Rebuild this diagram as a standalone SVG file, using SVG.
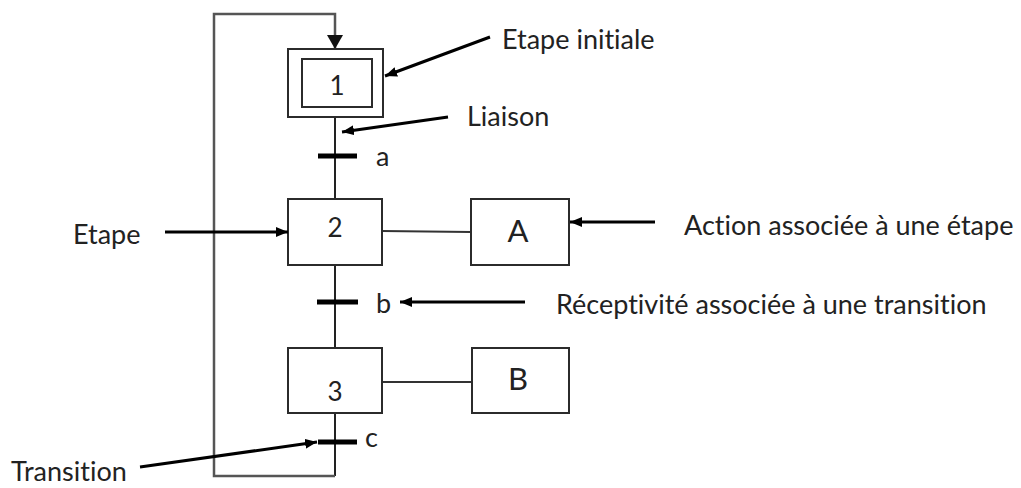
<svg xmlns="http://www.w3.org/2000/svg" width="1021" height="488" viewBox="0 0 1021 488">
  <defs>
    <marker id="head" viewBox="0 0 12 10" refX="12" refY="5" markerWidth="12" markerHeight="10" markerUnits="userSpaceOnUse" orient="auto">
      <path d="M0,0 L12,5 L0,10 Z" fill="#000"/>
    </marker>
    <marker id="headLoop" viewBox="0 0 14 16" refX="14" refY="8" markerWidth="14" markerHeight="16" markerUnits="userSpaceOnUse" orient="auto">
      <path d="M0,0 L14,8 L0,16 Z" fill="#111"/>
    </marker>
    <style>
      .box { fill: #fff; stroke: #2b2b2b; stroke-width: 2; }
      .flow { fill: none; stroke: #222; stroke-width: 2; }
      .loop { fill: none; stroke: #555; stroke-width: 2.5; }
      .link { fill: none; stroke: #333; stroke-width: 2; }
      .bar { stroke: #000; stroke-width: 5; }
      .pointer { fill: none; stroke: #000; stroke-width: 3; marker-end: url(#head); }
      text { font-family: Lato, "Open Sans", sans-serif; fill: #222; font-variant-ligatures: none; font-feature-settings: "liga" 0, "dlig" 0; }
      .lbl { font-size: 27px; }
      .num { font-size: 26px; text-anchor: middle; }
      .act { font-size: 31px; text-anchor: middle; }
    </style>
  </defs>

  <!-- connectors: main flow, return loop, action links, transition bars -->
  <g id="connectors">
    <line class="flow" x1="335" y1="117" x2="335" y2="199"/>
    <line class="flow" x1="335" y1="265" x2="335" y2="348"/>
    <line class="flow" x1="335" y1="413" x2="335" y2="476"/>
    <path class="loop" d="M335,476 H214 V14 H335 V49" marker-end="url(#headLoop)"/>
    <line class="link" x1="382" y1="231" x2="471" y2="232"/>
    <line class="link" x1="382" y1="382" x2="472" y2="382"/>
    <line class="bar" x1="318" y1="156" x2="357" y2="156"/>
    <line class="bar" x1="317" y1="302" x2="358" y2="302"/>
    <line class="bar" x1="318" y1="442" x2="357" y2="442"/>
  </g>

  <!-- steps -->
  <g id="step1">
    <rect class="box" x="288" y="49" width="95" height="68"/>
    <rect class="box" x="302" y="59" width="70" height="48"/>
    <text class="num" x="337" y="95">1</text>
  </g>
  <g id="step2">
    <rect class="box" x="288" y="199" width="94" height="66"/>
    <text class="num" x="335" y="237">2</text>
  </g>
  <g id="step3">
    <rect class="box" x="288" y="348" width="94" height="65"/>
    <text class="num" x="335" y="401">3</text>
  </g>

  <!-- actions -->
  <g id="actionA">
    <rect class="box" x="471" y="199" width="98" height="66"/>
    <text class="act" x="518" y="242">A</text>
  </g>
  <g id="actionB">
    <rect class="box" x="472" y="348" width="97" height="65"/>
    <text class="act" x="518" y="390">B</text>
  </g>

  <!-- receptivities -->
  <g id="receptivities">
    <text class="lbl" x="376" y="166">a</text>
    <text class="lbl" x="376" y="313">b</text>
    <text class="lbl" x="365" y="447">c</text>
  </g>

  <!-- annotations -->
  <g id="annotations">
    <line class="pointer" x1="490" y1="37" x2="385" y2="76"/>
    <text class="lbl" x="502" y="49">Etape initiale</text>

    <line class="pointer" x1="448" y1="117" x2="342" y2="132"/>
    <text class="lbl" x="467" y="126">Liaison</text>

    <line class="pointer" x1="165" y1="232" x2="288" y2="232"/>
    <text class="lbl" x="73" y="244">Etape</text>

    <line class="pointer" x1="655" y1="222" x2="570" y2="222"/>
    <text class="lbl" x="684" y="235">Action associée à une étape</text>

    <line class="pointer" x1="525" y1="302" x2="400" y2="302"/>
    <text class="lbl" x="556" y="314">Réceptivité associée à une transition</text>

    <line class="pointer" x1="140" y1="467" x2="317" y2="442"/>
    <text class="lbl" x="11" y="481">Transition</text>
  </g>
</svg>
